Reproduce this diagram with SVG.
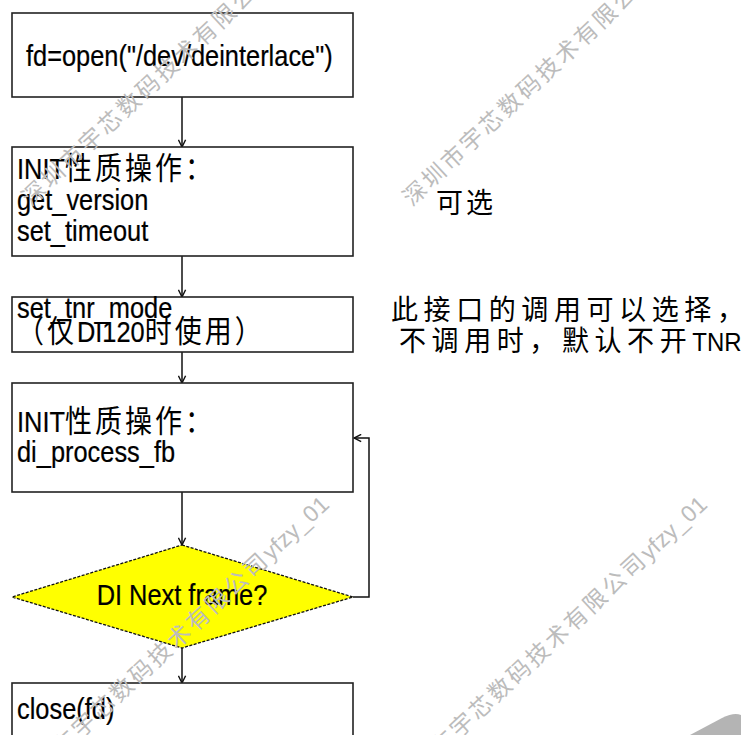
<svg xmlns="http://www.w3.org/2000/svg" width="741" height="735" viewBox="0 0 741 735">
  <style>
    .box { fill: #ffffff; stroke: #222222; stroke-width: 1.6; }
    .dia { fill: #ffff00; stroke: #111111; stroke-width: 1.3; stroke-dasharray: 3 1.5; }
    .t { font-family: "Liberation Sans", "Noto Sans CJK SC", Arial, sans-serif; font-size: 25.4px; fill: #000000; stroke: #000000; stroke-width: 0.2px; }
    .cjk { font-family: "Noto Sans CJK SC", "Liberation Sans", sans-serif; font-size: 27px; letter-spacing: 3px; stroke-width: 0px; }
    .note { font-family: "Noto Sans CJK SC", "Liberation Sans", sans-serif; font-size: 27px; fill: #000000; }
    .wide { letter-spacing: 5.6px; }
    .lat { font-family: "Liberation Sans", Arial, sans-serif; font-size: 24px; letter-spacing: 0px; }
    .conn { fill: none; stroke: #111111; stroke-width: 1.5; }
    .wm { font-family: "Noto Sans CJK SC", sans-serif; font-size: 23px; fill: #bcbcbc; letter-spacing: 3px; }
    .wmlat { font-family: "Liberation Sans", sans-serif; letter-spacing: 0.3px; }
  </style>
  <defs>
    <marker id="arr" viewBox="0 0 10 10" refX="9" refY="5" markerWidth="9" markerHeight="9" markerUnits="userSpaceOnUse" orient="auto">
      <path d="M1,1 L9,5 L1,9" fill="none" stroke="#111111" stroke-width="1.6"/>
    </marker>
  </defs>

  <rect x="0" y="0" width="741" height="735" fill="#ffffff"/>

  <g id="connectors">
    <line class="conn" x1="182" y1="97" x2="182" y2="147" marker-end="url(#arr)"/>
    <line class="conn" x1="182" y1="256" x2="182" y2="297" marker-end="url(#arr)"/>
    <line class="conn" x1="182" y1="352" x2="182" y2="383" marker-end="url(#arr)"/>
    <line class="conn" x1="182" y1="492" x2="182" y2="545" marker-end="url(#arr)"/>
    <line class="conn" x1="182" y1="648" x2="182" y2="683" marker-end="url(#arr)"/>
    <polyline class="conn" points="353,597 369,597 369,438 354,438" marker-end="url(#arr)"/>
  </g>

  <g id="node-open">
    <rect class="box" x="12" y="13" width="341" height="84"/>
    <text class="t" transform="translate(26,66) scale(1,1.15)">fd=open("/dev/deinterlace")</text>
  </g>

  <g id="node-init1">
    <rect class="box" x="12" y="147" width="341" height="109"/>
    <text class="t" transform="translate(17,179) scale(1,1.15)">INIT<tspan class="cjk">性质操作：</tspan></text>
    <text class="t" transform="translate(17,210) scale(1,1.15)">get_version</text>
    <text class="t" transform="translate(17,241) scale(1,1.15)">set_timeout</text>
  </g>

  <g id="node-tnr">
    <rect class="box" x="12" y="297" width="341" height="55"/>
    <text class="t" transform="translate(17,318) scale(1,1.15)">set_tnr_mode</text>
    <text class="t" transform="translate(17,342) scale(1,1.15)"><tspan class="cjk">（仅</tspan>DI120<tspan class="cjk">时使用）</tspan></text>
  </g>

  <g id="node-init2">
    <rect class="box" x="12" y="383" width="341" height="109"/>
    <text class="t" transform="translate(17,432) scale(1,1.15)">INIT<tspan class="cjk">性质操作：</tspan></text>
    <text class="t" transform="translate(17,462) scale(1,1.15)">di_process_fb</text>
  </g>

  <g id="node-decision">
    <polygon class="dia" points="182,545 353,597 182,648 12,597"/>
    <text class="t" text-anchor="middle" transform="translate(182,605) scale(1,1.15)">DI Next frame?</text>
  </g>

  <g id="node-close">
    <rect class="box" x="12" y="683" width="341" height="70"/>
    <text class="t" transform="translate(17,719) scale(1,1.15)">close(fd)</text>
  </g>

  <g id="note-optional">
    <text class="note" letter-spacing="3px" transform="translate(436,213) scale(1,1.05)">可选</text>
  </g>

  <g id="note-tnr">
    <text class="note wide" transform="translate(391,320) scale(1,1.05)">此接口的调用可以选择，</text>
    <text class="note wide" transform="translate(399,351) scale(1,1.05)">不调用时，默认不开<tspan class="lat">TNR</tspan></text>
  </g>

  <g id="watermarks">
    <text class="wm" transform="translate(31,207) rotate(-43)">深圳市宇芯数码技术有限公司<tspan class="wmlat">yfzy_01</tspan></text>
    <text class="wm" transform="translate(412,207) rotate(-43)">深圳市宇芯数码技术有限公司<tspan class="wmlat">yfzy_01</tspan></text>
    <text class="wm" transform="translate(24,792) rotate(-43)">深圳市宇芯数码技术有限公司<tspan class="wmlat">yfzy_01</tspan></text>
    <text class="wm" transform="translate(402,792) rotate(-43)">深圳市宇芯数码技术有限公司<tspan class="wmlat">yfzy_01</tspan></text>
    <path d="M690,735 L722,718 Q734,712 741,715 L741,735 Z" fill="#b4b4b4"/>
  </g>
</svg>
